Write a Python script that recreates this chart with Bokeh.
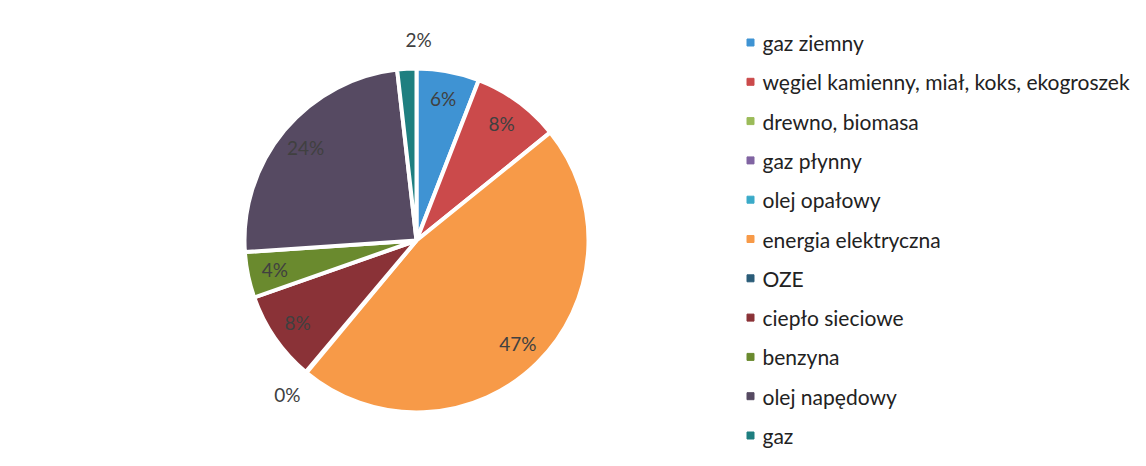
import math
from bokeh.plotting import figure
from bokeh.models import Range1d, ColumnDataSource
from bokeh.core.properties import value
from bokeh.embed import file_html
from bokeh.resources import INLINE

categories = ["gaz ziemny", "węgiel kamienny, miał, koks, ekogroszek", "drewno, biomasa",
              "gaz płynny", "olej opałowy", "energia elektryczna", "OZE", "ciepło sieciowe",
              "benzyna", "olej napędowy", "gaz"]
shares = [5.9, 8.3, 0.0, 0.0, 0.0, 46.9, 0.1, 8.5, 4.3, 24.3, 1.8]
show_label = [True, True, False, False, False, True, True, True, True, True, True]
slice_colors = ["#3F93D3", "#CB4A4B", "#9BBB59", "#8064A2", "#3AAAC8", "#F79A48",
                "#2B5C78", "#8A3237", "#6A8A2E", "#564A62", "#1E7F80"]

W, H = 1146, 466
p = figure(width=W, height=H, output_backend="svg", toolbar_location=None,
           x_range=Range1d(0, W), y_range=Range1d(-H, 0),
           min_border=0)
p.axis.visible = False
p.grid.visible = False
p.outline_line_color = None
p.background_fill_color = "white"
p.border_fill_color = "white"

cx, cy, R = 416, -240, 172
total = sum(shares)
starts, ends, cols = [], [], []
all_mids = []
cum = 0.0
for v, c in zip(shares, slice_colors):
    f0 = cum / total
    cum += v
    f1 = cum / total
    all_mids.append(math.pi / 2 - math.pi * (f0 + f1))
    if f1 - f0 < 0.002:
        continue
    starts.append(math.pi / 2 - 2 * math.pi * f0)
    ends.append(math.pi / 2 - 2 * math.pi * f1)
    cols.append(c)

src = ColumnDataSource(dict(start=starts, end=ends, color=cols))
p.wedge(x=cx, y=cy, radius=R, start_angle="start", end_angle="end", direction="clock",
        fill_color="color", line_color="white", line_width=4, source=src)

lx, ly, lt = [], [], []
for v, m, s in zip(shares, all_mids, show_label):
    if not s:
        continue
    r = R * 0.84 if v >= 3 else R * 1.17
    x = cx + r * math.cos(m)
    if v < 3 and abs(math.cos(m)) < 0.1:
        x = cx + 2  # near-vertical outside label sits just right of the top
    lx.append(x)
    ly.append(cy + r * math.sin(m))
    lt.append(f"{round(v / total * 100):.0f}%")
p.text(x=lx, y=ly, text=lt, text_align="center", text_baseline="middle",
       text_font=value("Lato"), text_font_size="19px", text_color="#404040")

# legend
n = len(categories)
leg_y = [-(42 + i * 39.3) for i in range(n)]
p.scatter(x=[750] * n, y=leg_y, marker="square", size=7, fill_color=slice_colors,
          line_color=slice_colors)
p.text(x=[762] * n, y=leg_y, text=categories, text_align="left", text_baseline="middle",
       text_font=value("Lato"), text_font_size="21px", text_color="#222222")

open("out.html", "w").write(file_html(p, INLINE))
